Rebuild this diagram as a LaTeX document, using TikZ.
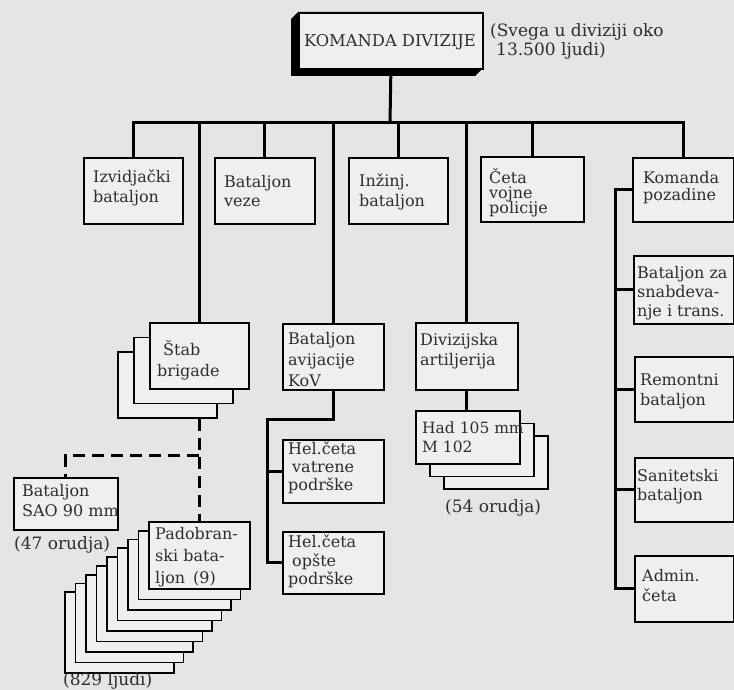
\documentclass[tikz,border=0pt]{standalone}
\usepackage{fontspec}
\setmainfont{DejaVu Serif}
\definecolor{paper}{RGB}{229,229,227}
\definecolor{boxfill}{RGB}{239,239,237}
\definecolor{ink}{RGB}{45,45,45}
\newcommand\mystrut{\rule{0pt}{16pt}}
\begin{document}
\begin{tikzpicture}[x=1pt,y=-1pt,
  bx/.style={draw=black, line width=1.8pt, fill=boxfill, rectangle, inner sep=0pt, anchor=north west},
  conn/.style={draw=black, line width=3pt},
  dconn/.style={draw=black, line width=3pt, dash pattern=on 12pt off 7pt},
  lbl/.style={anchor=north west, inner sep=0pt, align=left, text=ink, font={\fontsize{16}{#1}\selectfont\lineskiplimit=-100pt\relax}},
  lbl/.default=20,
  note/.style={anchor=north west, inner sep=0pt, align=left, text=ink, font={\fontsize{17}{19}\selectfont}}
]
\useasboundingbox (0,0) rectangle (734,690);
\fill[paper] (0,0) rectangle (734,690);

% shadow of the top box
\fill[black] (298,12) -- (291,19) -- (291,76) -- (475,76) -- (482,69) -- (482,12) -- cycle;
\node[bx, minimum width=184pt, minimum height=56pt] (kd) at (298,12) {};

% first row
\node[bx, minimum width=99pt,  minimum height=66pt] (izv)  at (83,157) {};
\node[bx, minimum width=100pt, minimum height=66pt] (veze) at (214,157) {};
\node[bx, minimum width=99pt,  minimum height=66pt] (inz)  at (348,157) {};
\node[bx, minimum width=103pt, minimum height=65pt] (ceta) at (480,156) {};
\node[bx, minimum width=101pt, minimum height=64pt] (kpoz) at (632,157) {};

% right column
\node[bx, minimum width=100pt, minimum height=68pt] (snab) at (633,255) {};
\node[bx, minimum width=99pt,  minimum height=65pt] (rem)  at (634,356) {};
\node[bx, minimum width=99pt,  minimum height=64pt] (san)  at (634,457) {};
\node[bx, minimum width=99pt,  minimum height=66pt] (adm)  at (634,555) {};

% artillery
\node[bx, minimum width=102pt, minimum height=67pt] (div) at (415,322) {};
\node[bx, minimum width=104pt, minimum height=53pt] (had3) at (443,435) {};
\node[bx, minimum width=104pt, minimum height=53pt] (had2) at (429,422.5) {};
\node[bx, minimum width=104pt, minimum height=53pt] (had)  at (415,410) {};

% brigade staff stack
\node[bx, minimum width=99pt, minimum height=66pt] (stab3) at (117,351) {};
\node[bx, minimum width=99pt, minimum height=66pt] (stab2) at (133,336.5) {};
\node[bx, minimum width=99pt, minimum height=66pt] (stab)  at (149,322) {};

% SAO battalion
\node[bx, minimum width=104pt, minimum height=52pt] (sao) at (13,477) {};

% parachute battalions stack
\foreach \i in {8,7,...,1} {
  \pgfmathsetmacro\L{148-10.5*\i}
  \pgfmathsetmacro\T{521+8.8*\i}
  \pgfmathsetmacro\W{101+\i}
  \pgfmathsetmacro\H{67+1.7*\i}
  \node[bx, minimum width=\W pt, minimum height=\H pt] (pad\i) at (\L,\T) {};
}
\node[bx, minimum width=101pt, minimum height=67pt] (pad) at (148,521) {};

% aviation
\node[bx, minimum width=101pt, minimum height=66pt] (avij) at (282,323) {};
\node[bx, minimum width=101pt, minimum height=63pt] (helv) at (282,439) {};
\node[bx, minimum width=101pt, minimum height=62pt] (helo) at (282,531) {};

% connectors
\coordinate (bus) at (390,123);
\draw[conn] (kd.south) -- (bus);
\draw[conn] (izv.north) |- (bus) -| (kpoz.north);
\foreach \n in {stab,veze,avij,inz,div,ceta} \draw[conn] (\n.north) -- (\n.north |- bus);
\draw[conn] (div.south) -- (div.south |- had.north);
\coordinate (hj) at (267,419);
\draw[conn] (avij.south) |- (hj) |- (helo.west);
\draw[conn] (hj |- helv.west) -- (helv.west);
\coordinate (rc) at (615,188);
\draw[conn] (kpoz.west) -| (rc |- adm.west) -- (adm.west);
\foreach \n in {snab,rem,san} \draw[conn] (rc |- \n.west) -- (\n.west);
\coordinate (dj) at (198,455);
\draw[dconn] (stab.south |- stab3.south) -- (pad.north);
\draw[dconn] (pad.north |- dj) -| (sao.north);

% texts
\node[text=ink, inner sep=0pt, font=\fontsize{16.3}{19}\selectfont] (tkd) at (390,42) {KOMANDA DIVIZIJE};
\node[note] (tnote) at (490,20) {\mystrut(Svega u diviziji oko\\\hspace*{6pt}13.500 ljudi)};
\node[lbl=19.4] (tizv) at (93,166.8) {\mystrut Izvidjački\\bataljon};
\node[lbl=19.3] (tveze) at (224,171.2) {\mystrut Bataljon\\veze};
\node[lbl=20] (tinz) at (359,170) {\mystrut Inžinj.\\bataljon};
\node[lbl=14.7] (tceta) at (489,167.8) {\mystrut Četa\\vojne\\policije};
\node[lbl=16.7] (tkpoz) at (643,167.2) {\mystrut Komanda\\pozadine};
\node[lbl=19.2] (tsnab) at (637,262.2) {\mystrut Bataljon za\\snabdeva-\\nje i trans.};
\node[lbl=20] (trem) at (640,369.5) {\mystrut Remontni\\bataljon};
\node[lbl=19.3] (tsan) at (637,465.2) {\mystrut Sanitetski\\bataljon};
\node[lbl=20] (tadm) at (642,565.5) {\mystrut Admin.\\četa};
\node[lbl=20.7] (tdiv) at (420,328.8) {\mystrut Divizijska\\artiljerija};
\node[lbl=19, font={\fontsize{15.5}{19}\selectfont}] (thad) at (422,417.2) {\mystrut Had 105 mm\\M 102};
\node[note] (t54) at (445,496) {\mystrut(54 orudja)};
\node[lbl=20.7] (tstab) at (157,339.5) {\mystrut\hspace*{6pt}Štab\\brigade};
\node[lbl=20] (tsao) at (22,480.2) {\mystrut Bataljon\\SAO 90 mm};
\node[note] (t47) at (14,533.5) {\mystrut(47 orudja)};
\node[lbl=22] (tpad) at (155,523.5) {\mystrut Padobran-\\ski bata-\\ljon\hspace{8pt}(9)};
\node[note] (t829) at (63,669.5) {\mystrut(829 ljudi)};
\node[lbl=21] (tavij) at (288,328.5) {\mystrut Bataljon\\avijacije\\KoV};
\node[lbl=18] (thelv) at (288,437.8) {\mystrut Hel.četa\\\hspace*{4pt}vatrene\\podrške};
\node[lbl=18.7] (thelo) at (288,531.2) {\mystrut Hel.četa\\\hspace*{4pt}opšte\\podrške};
\end{tikzpicture}
\end{document}
